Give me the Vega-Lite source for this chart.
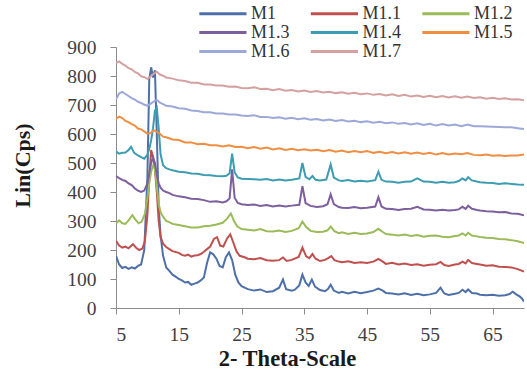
{
"$schema": "https://vega.github.io/schema/vega-lite/v6.json",
"width": 408, "height": 261,
"autosize": {"type": "none"},
"padding": {"left": 116, "top": 47, "right": 3, "bottom": 61},
"background": "white",
"config": {"view": {"stroke": null}, "font": "Liberation Serif"},
"data": {"values": [
{"s":"M1","x":5,"y":180},{"s":"M1","x":5.5,"y":150},{"s":"M1","x":6,"y":138},{"s":"M1","x":6.5,"y":142},{"s":"M1","x":7,"y":135},{"s":"M1","x":7.5,"y":140},{"s":"M1","x":8,"y":136},{"s":"M1","x":8.5,"y":145},{"s":"M1","x":9,"y":150},{"s":"M1","x":9.5,"y":200},{"s":"M1","x":10,"y":450},{"s":"M1","x":10.3,"y":790},{"s":"M1","x":10.6,"y":830},{"s":"M1","x":10.9,"y":795},{"s":"M1","x":11.2,"y":820},{"s":"M1","x":11.5,"y":600},{"s":"M1","x":11.8,"y":350},{"s":"M1","x":12.1,"y":250},{"s":"M1","x":12.5,"y":180},{"s":"M1","x":13,"y":140},{"s":"M1","x":13.5,"y":128},{"s":"M1","x":14,"y":115},{"s":"M1","x":14.5,"y":108},{"s":"M1","x":15,"y":100},{"s":"M1","x":15.5,"y":95},{"s":"M1","x":16,"y":88},{"s":"M1","x":16.5,"y":90},{"s":"M1","x":17,"y":80},{"s":"M1","x":17.5,"y":84},{"s":"M1","x":18,"y":88},{"s":"M1","x":18.5,"y":95},{"s":"M1","x":19,"y":105},{"s":"M1","x":19.5,"y":155},{"s":"M1","x":20,"y":192},{"s":"M1","x":20.5,"y":185},{"s":"M1","x":21,"y":170},{"s":"M1","x":21.5,"y":145},{"s":"M1","x":22,"y":140},{"s":"M1","x":22.5,"y":175},{"s":"M1","x":23,"y":192},{"s":"M1","x":23.5,"y":165},{"s":"M1","x":24,"y":115},{"s":"M1","x":24.5,"y":88},{"s":"M1","x":25,"y":75},{"s":"M1","x":25.5,"y":70},{"s":"M1","x":26,"y":65},{"s":"M1","x":27,"y":60},{"s":"M1","x":28,"y":64},{"s":"M1","x":29,"y":55},{"s":"M1","x":30,"y":58},{"s":"M1","x":31,"y":70},{"s":"M1","x":31.6,"y":98},{"s":"M1","x":32.1,"y":65},{"s":"M1","x":33,"y":60},{"s":"M1","x":33.5,"y":63},{"s":"M1","x":34.2,"y":78},{"s":"M1","x":34.7,"y":115},{"s":"M1","x":35.2,"y":88},{"s":"M1","x":35.7,"y":76},{"s":"M1","x":36.2,"y":98},{"s":"M1","x":36.7,"y":74},{"s":"M1","x":37.5,"y":62},{"s":"M1","x":38.3,"y":58},{"s":"M1","x":38.8,"y":66},{"s":"M1","x":39.2,"y":80},{"s":"M1","x":39.7,"y":60},{"s":"M1","x":40.5,"y":52},{"s":"M1","x":41,"y":56},{"s":"M1","x":42,"y":50},{"s":"M1","x":43,"y":56},{"s":"M1","x":44,"y":51},{"s":"M1","x":45,"y":55},{"s":"M1","x":46,"y":60},{"s":"M1","x":46.8,"y":67},{"s":"M1","x":47.5,"y":60},{"s":"M1","x":48,"y":52},{"s":"M1","x":49,"y":50},{"s":"M1","x":50,"y":47},{"s":"M1","x":51,"y":51},{"s":"M1","x":52,"y":45},{"s":"M1","x":53,"y":49},{"s":"M1","x":54,"y":44},{"s":"M1","x":55,"y":47},{"s":"M1","x":56,"y":52},{"s":"M1","x":56.7,"y":70},{"s":"M1","x":57.3,"y":50},{"s":"M1","x":58,"y":45},{"s":"M1","x":59,"y":49},{"s":"M1","x":59.6,"y":52},{"s":"M1","x":60.2,"y":63},{"s":"M1","x":60.7,"y":55},{"s":"M1","x":61.1,"y":64},{"s":"M1","x":61.7,"y":52},{"s":"M1","x":62.5,"y":50},{"s":"M1","x":63,"y":46},{"s":"M1","x":64,"y":44},{"s":"M1","x":65,"y":46},{"s":"M1","x":66,"y":42},{"s":"M1","x":67,"y":44},{"s":"M1","x":67.7,"y":48},{"s":"M1","x":68.2,"y":56},{"s":"M1","x":68.7,"y":48},{"s":"M1","x":69.3,"y":40},{"s":"M1","x":69.7,"y":32},{"s":"M1","x":70,"y":22},

{"s":"M1.1","x":5,"y":232},{"s":"M1.1","x":5.5,"y":215},{"s":"M1.1","x":6,"y":208},{"s":"M1.1","x":6.5,"y":212},{"s":"M1.1","x":7,"y":206},{"s":"M1.1","x":7.7,"y":220},{"s":"M1.1","x":8.2,"y":208},{"s":"M1.1","x":8.7,"y":200},{"s":"M1.1","x":9.2,"y":205},{"s":"M1.1","x":9.6,"y":230},{"s":"M1.1","x":10,"y":320},{"s":"M1.1","x":10.3,"y":450},{"s":"M1.1","x":10.6,"y":545},{"s":"M1.1","x":10.9,"y":520},{"s":"M1.1","x":11.2,"y":480},{"s":"M1.1","x":11.5,"y":400},{"s":"M1.1","x":11.8,"y":300},{"s":"M1.1","x":12.1,"y":245},{"s":"M1.1","x":12.5,"y":222},{"s":"M1.1","x":13,"y":210},{"s":"M1.1","x":13.5,"y":203},{"s":"M1.1","x":14,"y":196},{"s":"M1.1","x":15,"y":190},{"s":"M1.1","x":15.5,"y":183},{"s":"M1.1","x":16,"y":180},{"s":"M1.1","x":16.5,"y":184},{"s":"M1.1","x":17,"y":177},{"s":"M1.1","x":17.5,"y":181},{"s":"M1.1","x":18,"y":182},{"s":"M1.1","x":18.5,"y":186},{"s":"M1.1","x":19,"y":194},{"s":"M1.1","x":19.5,"y":203},{"s":"M1.1","x":20,"y":212},{"s":"M1.1","x":20.6,"y":238},{"s":"M1.1","x":21.1,"y":244},{"s":"M1.1","x":21.6,"y":215},{"s":"M1.1","x":22.1,"y":212},{"s":"M1.1","x":22.7,"y":240},{"s":"M1.1","x":23.2,"y":254},{"s":"M1.1","x":23.7,"y":225},{"s":"M1.1","x":24.2,"y":195},{"s":"M1.1","x":24.7,"y":180},{"s":"M1.1","x":25.5,"y":175},{"s":"M1.1","x":26,"y":170},{"s":"M1.1","x":27,"y":168},{"s":"M1.1","x":28,"y":172},{"s":"M1.1","x":29,"y":165},{"s":"M1.1","x":30,"y":163},{"s":"M1.1","x":31,"y":165},{"s":"M1.1","x":31.6,"y":174},{"s":"M1.1","x":32.2,"y":162},{"s":"M1.1","x":33,"y":166},{"s":"M1.1","x":34.1,"y":176},{"s":"M1.1","x":34.7,"y":208},{"s":"M1.1","x":35.3,"y":178},{"s":"M1.1","x":35.8,"y":172},{"s":"M1.1","x":36.3,"y":186},{"s":"M1.1","x":36.8,"y":170},{"s":"M1.1","x":37.5,"y":162},{"s":"M1.1","x":38.3,"y":166},{"s":"M1.1","x":38.8,"y":172},{"s":"M1.1","x":39.3,"y":179},{"s":"M1.1","x":39.8,"y":165},{"s":"M1.1","x":40.5,"y":160},{"s":"M1.1","x":41,"y":158},{"s":"M1.1","x":42,"y":161},{"s":"M1.1","x":43,"y":155},{"s":"M1.1","x":44,"y":158},{"s":"M1.1","x":45,"y":155},{"s":"M1.1","x":46,"y":160},{"s":"M1.1","x":46.8,"y":169},{"s":"M1.1","x":47.5,"y":160},{"s":"M1.1","x":48,"y":152},{"s":"M1.1","x":49,"y":156},{"s":"M1.1","x":50,"y":150},{"s":"M1.1","x":51,"y":153},{"s":"M1.1","x":52,"y":148},{"s":"M1.1","x":53,"y":151},{"s":"M1.1","x":54,"y":146},{"s":"M1.1","x":55,"y":149},{"s":"M1.1","x":56,"y":151},{"s":"M1.1","x":56.7,"y":159},{"s":"M1.1","x":57.3,"y":148},{"s":"M1.1","x":58,"y":145},{"s":"M1.1","x":59,"y":150},{"s":"M1.1","x":59.6,"y":152},{"s":"M1.1","x":60.2,"y":160},{"s":"M1.1","x":60.7,"y":154},{"s":"M1.1","x":61.1,"y":166},{"s":"M1.1","x":61.7,"y":155},{"s":"M1.1","x":62.5,"y":152},{"s":"M1.1","x":63,"y":150},{"s":"M1.1","x":64,"y":146},{"s":"M1.1","x":65,"y":147},{"s":"M1.1","x":66,"y":142},{"s":"M1.1","x":67,"y":141},{"s":"M1.1","x":68,"y":140},{"s":"M1.1","x":69,"y":134},{"s":"M1.1","x":70,"y":126},

{"s":"M1.2","x":5,"y":292},{"s":"M1.2","x":5.5,"y":302},{"s":"M1.2","x":6,"y":292},{"s":"M1.2","x":6.5,"y":290},{"s":"M1.2","x":7,"y":302},{"s":"M1.2","x":7.6,"y":320},{"s":"M1.2","x":8.1,"y":305},{"s":"M1.2","x":8.6,"y":292},{"s":"M1.2","x":9.1,"y":298},{"s":"M1.2","x":9.6,"y":325},{"s":"M1.2","x":10,"y":380},{"s":"M1.2","x":10.3,"y":430},{"s":"M1.2","x":10.6,"y":470},{"s":"M1.2","x":10.9,"y":490},{"s":"M1.2","x":11.2,"y":480},{"s":"M1.2","x":11.5,"y":420},{"s":"M1.2","x":11.8,"y":360},{"s":"M1.2","x":12.1,"y":330},{"s":"M1.2","x":12.5,"y":315},{"s":"M1.2","x":13,"y":300},{"s":"M1.2","x":13.5,"y":296},{"s":"M1.2","x":14,"y":290},{"s":"M1.2","x":15,"y":286},{"s":"M1.2","x":16,"y":282},{"s":"M1.2","x":17,"y":278},{"s":"M1.2","x":18,"y":278},{"s":"M1.2","x":19,"y":282},{"s":"M1.2","x":20,"y":284},{"s":"M1.2","x":21,"y":288},{"s":"M1.2","x":22,"y":294},{"s":"M1.2","x":22.7,"y":308},{"s":"M1.2","x":23.3,"y":326},{"s":"M1.2","x":23.8,"y":300},{"s":"M1.2","x":24.3,"y":282},{"s":"M1.2","x":25,"y":272},{"s":"M1.2","x":26,"y":270},{"s":"M1.2","x":27,"y":267},{"s":"M1.2","x":28,"y":272},{"s":"M1.2","x":29,"y":265},{"s":"M1.2","x":30,"y":264},{"s":"M1.2","x":31,"y":267},{"s":"M1.2","x":32,"y":262},{"s":"M1.2","x":33,"y":266},{"s":"M1.2","x":34.1,"y":275},{"s":"M1.2","x":34.7,"y":298},{"s":"M1.2","x":35.3,"y":279},{"s":"M1.2","x":36,"y":266},{"s":"M1.2","x":37,"y":262},{"s":"M1.2","x":38,"y":263},{"s":"M1.2","x":38.7,"y":268},{"s":"M1.2","x":39.2,"y":281},{"s":"M1.2","x":39.8,"y":265},{"s":"M1.2","x":40.5,"y":258},{"s":"M1.2","x":41,"y":261},{"s":"M1.2","x":42,"y":255},{"s":"M1.2","x":43,"y":259},{"s":"M1.2","x":44,"y":255},{"s":"M1.2","x":45,"y":257},{"s":"M1.2","x":46,"y":262},{"s":"M1.2","x":46.8,"y":273},{"s":"M1.2","x":47.5,"y":262},{"s":"M1.2","x":48,"y":255},{"s":"M1.2","x":49,"y":253},{"s":"M1.2","x":50,"y":250},{"s":"M1.2","x":51,"y":253},{"s":"M1.2","x":52,"y":248},{"s":"M1.2","x":53,"y":252},{"s":"M1.2","x":54,"y":246},{"s":"M1.2","x":55,"y":249},{"s":"M1.2","x":56,"y":250},{"s":"M1.2","x":57,"y":246},{"s":"M1.2","x":58,"y":244},{"s":"M1.2","x":59,"y":248},{"s":"M1.2","x":59.6,"y":250},{"s":"M1.2","x":60.2,"y":257},{"s":"M1.2","x":60.7,"y":250},{"s":"M1.2","x":61.1,"y":259},{"s":"M1.2","x":61.7,"y":250},{"s":"M1.2","x":62.5,"y":247},{"s":"M1.2","x":63,"y":245},{"s":"M1.2","x":64,"y":242},{"s":"M1.2","x":65,"y":241},{"s":"M1.2","x":66,"y":238},{"s":"M1.2","x":67,"y":237},{"s":"M1.2","x":68,"y":234},{"s":"M1.2","x":69,"y":230},{"s":"M1.2","x":70,"y":224},

{"s":"M1.3","x":5,"y":455},{"s":"M1.3","x":5.5,"y":448},{"s":"M1.3","x":6,"y":442},{"s":"M1.3","x":6.5,"y":438},{"s":"M1.3","x":7,"y":430},{"s":"M1.3","x":7.5,"y":424},{"s":"M1.3","x":8,"y":412},{"s":"M1.3","x":8.5,"y":405},{"s":"M1.3","x":9,"y":400},{"s":"M1.3","x":9.5,"y":405},{"s":"M1.3","x":10,"y":430},{"s":"M1.3","x":10.3,"y":465},{"s":"M1.3","x":10.6,"y":500},{"s":"M1.3","x":10.9,"y":520},{"s":"M1.3","x":11.2,"y":500},{"s":"M1.3","x":11.5,"y":460},{"s":"M1.3","x":11.8,"y":430},{"s":"M1.3","x":12.1,"y":415},{"s":"M1.3","x":12.5,"y":405},{"s":"M1.3","x":13,"y":400},{"s":"M1.3","x":13.5,"y":396},{"s":"M1.3","x":14,"y":390},{"s":"M1.3","x":15,"y":385},{"s":"M1.3","x":16,"y":382},{"s":"M1.3","x":17,"y":377},{"s":"M1.3","x":18,"y":376},{"s":"M1.3","x":19,"y":372},{"s":"M1.3","x":20,"y":366},{"s":"M1.3","x":21,"y":368},{"s":"M1.3","x":22,"y":364},{"s":"M1.3","x":22.6,"y":368},{"s":"M1.3","x":23.1,"y":378},{"s":"M1.3","x":23.5,"y":478},{"s":"M1.3","x":23.9,"y":380},{"s":"M1.3","x":24.4,"y":362},{"s":"M1.3","x":25,"y":358},{"s":"M1.3","x":26,"y":355},{"s":"M1.3","x":27,"y":357},{"s":"M1.3","x":28,"y":352},{"s":"M1.3","x":29,"y":355},{"s":"M1.3","x":30,"y":350},{"s":"M1.3","x":31,"y":353},{"s":"M1.3","x":32,"y":350},{"s":"M1.3","x":33,"y":353},{"s":"M1.3","x":34.2,"y":356},{"s":"M1.3","x":34.7,"y":420},{"s":"M1.3","x":35.2,"y":362},{"s":"M1.3","x":36,"y":352},{"s":"M1.3","x":37,"y":348},{"s":"M1.3","x":38,"y":351},{"s":"M1.3","x":38.7,"y":358},{"s":"M1.3","x":39.2,"y":392},{"s":"M1.3","x":39.7,"y":358},{"s":"M1.3","x":40.5,"y":348},{"s":"M1.3","x":41,"y":346},{"s":"M1.3","x":42,"y":345},{"s":"M1.3","x":43,"y":348},{"s":"M1.3","x":44,"y":344},{"s":"M1.3","x":45,"y":346},{"s":"M1.3","x":46.3,"y":350},{"s":"M1.3","x":46.8,"y":382},{"s":"M1.3","x":47.3,"y":350},{"s":"M1.3","x":48,"y":342},{"s":"M1.3","x":49,"y":341},{"s":"M1.3","x":50,"y":338},{"s":"M1.3","x":51,"y":341},{"s":"M1.3","x":52,"y":342},{"s":"M1.3","x":53,"y":349},{"s":"M1.3","x":54,"y":340},{"s":"M1.3","x":55,"y":339},{"s":"M1.3","x":56,"y":336},{"s":"M1.3","x":57,"y":339},{"s":"M1.3","x":58,"y":336},{"s":"M1.3","x":59,"y":338},{"s":"M1.3","x":59.6,"y":340},{"s":"M1.3","x":60.2,"y":349},{"s":"M1.3","x":60.7,"y":342},{"s":"M1.3","x":61.1,"y":353},{"s":"M1.3","x":61.7,"y":342},{"s":"M1.3","x":62.5,"y":338},{"s":"M1.3","x":63,"y":336},{"s":"M1.3","x":64,"y":334},{"s":"M1.3","x":65,"y":333},{"s":"M1.3","x":66,"y":330},{"s":"M1.3","x":67,"y":331},{"s":"M1.3","x":68,"y":326},{"s":"M1.3","x":69,"y":325},{"s":"M1.3","x":70,"y":320},

{"s":"M1.4","x":5,"y":540},{"s":"M1.4","x":5.5,"y":532},{"s":"M1.4","x":6,"y":535},{"s":"M1.4","x":6.5,"y":536},{"s":"M1.4","x":7,"y":545},{"s":"M1.4","x":7.4,"y":556},{"s":"M1.4","x":7.9,"y":535},{"s":"M1.4","x":8.5,"y":526},{"s":"M1.4","x":9,"y":520},{"s":"M1.4","x":9.5,"y":515},{"s":"M1.4","x":10,"y":528},{"s":"M1.4","x":10.3,"y":548},{"s":"M1.4","x":10.6,"y":578},{"s":"M1.4","x":10.9,"y":620},{"s":"M1.4","x":11.2,"y":680},{"s":"M1.4","x":11.5,"y":690},{"s":"M1.4","x":11.8,"y":620},{"s":"M1.4","x":12.1,"y":530},{"s":"M1.4","x":12.5,"y":492},{"s":"M1.4","x":13,"y":482},{"s":"M1.4","x":13.5,"y":478},{"s":"M1.4","x":14,"y":475},{"s":"M1.4","x":15,"y":470},{"s":"M1.4","x":16,"y":468},{"s":"M1.4","x":17,"y":464},{"s":"M1.4","x":18,"y":463},{"s":"M1.4","x":19,"y":459},{"s":"M1.4","x":20,"y":458},{"s":"M1.4","x":21,"y":455},{"s":"M1.4","x":22,"y":454},{"s":"M1.4","x":22.6,"y":456},{"s":"M1.4","x":23.1,"y":465},{"s":"M1.4","x":23.5,"y":532},{"s":"M1.4","x":23.9,"y":468},{"s":"M1.4","x":24.4,"y":450},{"s":"M1.4","x":25,"y":446},{"s":"M1.4","x":26,"y":445},{"s":"M1.4","x":27,"y":444},{"s":"M1.4","x":28,"y":442},{"s":"M1.4","x":29,"y":445},{"s":"M1.4","x":30,"y":440},{"s":"M1.4","x":31,"y":443},{"s":"M1.4","x":32,"y":440},{"s":"M1.4","x":33,"y":442},{"s":"M1.4","x":34.2,"y":447},{"s":"M1.4","x":34.7,"y":500},{"s":"M1.4","x":35.2,"y":452},{"s":"M1.4","x":35.8,"y":444},{"s":"M1.4","x":36.3,"y":455},{"s":"M1.4","x":36.8,"y":442},{"s":"M1.4","x":37.5,"y":440},{"s":"M1.4","x":38.5,"y":443},{"s":"M1.4","x":39.2,"y":495},{"s":"M1.4","x":39.7,"y":450},{"s":"M1.4","x":40.5,"y":440},{"s":"M1.4","x":41,"y":438},{"s":"M1.4","x":42,"y":441},{"s":"M1.4","x":43,"y":436},{"s":"M1.4","x":44,"y":439},{"s":"M1.4","x":45,"y":436},{"s":"M1.4","x":46.3,"y":441},{"s":"M1.4","x":46.8,"y":470},{"s":"M1.4","x":47.3,"y":442},{"s":"M1.4","x":48,"y":436},{"s":"M1.4","x":49,"y":435},{"s":"M1.4","x":50,"y":432},{"s":"M1.4","x":51,"y":435},{"s":"M1.4","x":52,"y":436},{"s":"M1.4","x":53,"y":447},{"s":"M1.4","x":54,"y":436},{"s":"M1.4","x":55,"y":435},{"s":"M1.4","x":56,"y":432},{"s":"M1.4","x":57,"y":435},{"s":"M1.4","x":58,"y":432},{"s":"M1.4","x":59,"y":434},{"s":"M1.4","x":59.6,"y":438},{"s":"M1.4","x":60.2,"y":447},{"s":"M1.4","x":60.7,"y":440},{"s":"M1.4","x":61.1,"y":451},{"s":"M1.4","x":61.7,"y":440},{"s":"M1.4","x":62.5,"y":436},{"s":"M1.4","x":63,"y":434},{"s":"M1.4","x":64,"y":432},{"s":"M1.4","x":65,"y":431},{"s":"M1.4","x":66,"y":428},{"s":"M1.4","x":67,"y":430},{"s":"M1.4","x":68,"y":428},{"s":"M1.4","x":69,"y":426},{"s":"M1.4","x":70,"y":425},

{"s":"M1.5","x":5,"y":652},{"s":"M1.5","x":5.5,"y":660},{"s":"M1.5","x":6,"y":655},{"s":"M1.5","x":6.5,"y":645},{"s":"M1.5","x":7,"y":641},{"s":"M1.5","x":7.5,"y":634},{"s":"M1.5","x":8,"y":629},{"s":"M1.5","x":8.5,"y":619},{"s":"M1.5","x":9,"y":616},{"s":"M1.5","x":9.5,"y":609},{"s":"M1.5","x":10,"y":601},{"s":"M1.5","x":10.5,"y":603},{"s":"M1.5","x":11,"y":613},{"s":"M1.5","x":11.5,"y":607},{"s":"M1.5","x":12,"y":601},{"s":"M1.5","x":12.5,"y":591},{"s":"M1.5","x":13,"y":589},{"s":"M1.5","x":14,"y":581},{"s":"M1.5","x":15,"y":579},{"s":"M1.5","x":16,"y":571},{"s":"M1.5","x":17,"y":571},{"s":"M1.5","x":18,"y":565},{"s":"M1.5","x":19,"y":566},{"s":"M1.5","x":20,"y":561},{"s":"M1.5","x":21,"y":561},{"s":"M1.5","x":22,"y":557},{"s":"M1.5","x":23,"y":561},{"s":"M1.5","x":24,"y":555},{"s":"M1.5","x":25,"y":556},{"s":"M1.5","x":26,"y":551},{"s":"M1.5","x":27,"y":555},{"s":"M1.5","x":28,"y":549},{"s":"M1.5","x":29,"y":553},{"s":"M1.5","x":30,"y":547},{"s":"M1.5","x":31,"y":551},{"s":"M1.5","x":32,"y":545},{"s":"M1.5","x":33,"y":549},{"s":"M1.5","x":34,"y":544},{"s":"M1.5","x":35,"y":547},{"s":"M1.5","x":36,"y":543},{"s":"M1.5","x":37,"y":546},{"s":"M1.5","x":38,"y":541},{"s":"M1.5","x":39,"y":545},{"s":"M1.5","x":40,"y":539},{"s":"M1.5","x":41,"y":543},{"s":"M1.5","x":42,"y":537},{"s":"M1.5","x":43,"y":541},{"s":"M1.5","x":44,"y":537},{"s":"M1.5","x":45,"y":541},{"s":"M1.5","x":46,"y":535},{"s":"M1.5","x":47,"y":539},{"s":"M1.5","x":48,"y":534},{"s":"M1.5","x":49,"y":538},{"s":"M1.5","x":50,"y":533},{"s":"M1.5","x":51,"y":537},{"s":"M1.5","x":52,"y":532},{"s":"M1.5","x":53,"y":536},{"s":"M1.5","x":54,"y":531},{"s":"M1.5","x":55,"y":535},{"s":"M1.5","x":56,"y":529},{"s":"M1.5","x":57,"y":534},{"s":"M1.5","x":58,"y":529},{"s":"M1.5","x":59,"y":533},{"s":"M1.5","x":60,"y":530},{"s":"M1.5","x":61,"y":534},{"s":"M1.5","x":62,"y":528},{"s":"M1.5","x":63,"y":527},{"s":"M1.5","x":64,"y":529},{"s":"M1.5","x":65,"y":525},{"s":"M1.5","x":66,"y":527},{"s":"M1.5","x":67,"y":524},{"s":"M1.5","x":68,"y":526},{"s":"M1.5","x":69,"y":526},{"s":"M1.5","x":70,"y":529},

{"s":"M1.6","x":5,"y":720},{"s":"M1.6","x":5.5,"y":740},{"s":"M1.6","x":6,"y":745},{"s":"M1.6","x":6.5,"y":738},{"s":"M1.6","x":7,"y":731},{"s":"M1.6","x":7.5,"y":724},{"s":"M1.6","x":8,"y":719},{"s":"M1.6","x":8.5,"y":711},{"s":"M1.6","x":9,"y":707},{"s":"M1.6","x":9.5,"y":701},{"s":"M1.6","x":10,"y":698},{"s":"M1.6","x":10.5,"y":704},{"s":"M1.6","x":11,"y":712},{"s":"M1.6","x":11.5,"y":718},{"s":"M1.6","x":12,"y":708},{"s":"M1.6","x":12.5,"y":703},{"s":"M1.6","x":13,"y":697},{"s":"M1.6","x":14,"y":695},{"s":"M1.6","x":15,"y":689},{"s":"M1.6","x":16,"y":687},{"s":"M1.6","x":17,"y":681},{"s":"M1.6","x":18,"y":679},{"s":"M1.6","x":19,"y":675},{"s":"M1.6","x":20,"y":675},{"s":"M1.6","x":21,"y":671},{"s":"M1.6","x":22,"y":671},{"s":"M1.6","x":23,"y":667},{"s":"M1.6","x":24,"y":667},{"s":"M1.6","x":25,"y":664},{"s":"M1.6","x":26,"y":662},{"s":"M1.6","x":27,"y":665},{"s":"M1.6","x":28,"y":659},{"s":"M1.6","x":29,"y":659},{"s":"M1.6","x":30,"y":655},{"s":"M1.6","x":31,"y":658},{"s":"M1.6","x":32,"y":653},{"s":"M1.6","x":33,"y":656},{"s":"M1.6","x":34,"y":651},{"s":"M1.6","x":35,"y":654},{"s":"M1.6","x":36,"y":649},{"s":"M1.6","x":37,"y":652},{"s":"M1.6","x":38,"y":647},{"s":"M1.6","x":39,"y":650},{"s":"M1.6","x":40,"y":645},{"s":"M1.6","x":41,"y":648},{"s":"M1.6","x":42,"y":643},{"s":"M1.6","x":43,"y":646},{"s":"M1.6","x":44,"y":641},{"s":"M1.6","x":45,"y":644},{"s":"M1.6","x":46,"y":639},{"s":"M1.6","x":47,"y":642},{"s":"M1.6","x":48,"y":637},{"s":"M1.6","x":49,"y":640},{"s":"M1.6","x":50,"y":635},{"s":"M1.6","x":51,"y":638},{"s":"M1.6","x":52,"y":633},{"s":"M1.6","x":53,"y":637},{"s":"M1.6","x":54,"y":631},{"s":"M1.6","x":55,"y":635},{"s":"M1.6","x":56,"y":629},{"s":"M1.6","x":57,"y":634},{"s":"M1.6","x":58,"y":629},{"s":"M1.6","x":59,"y":633},{"s":"M1.6","x":60,"y":627},{"s":"M1.6","x":61,"y":633},{"s":"M1.6","x":62,"y":627},{"s":"M1.6","x":63,"y":627},{"s":"M1.6","x":64,"y":626},{"s":"M1.6","x":65,"y":625},{"s":"M1.6","x":66,"y":624},{"s":"M1.6","x":67,"y":623},{"s":"M1.6","x":68,"y":623},{"s":"M1.6","x":69,"y":620},{"s":"M1.6","x":70,"y":617},

{"s":"M1.7","x":5,"y":845},{"s":"M1.7","x":5.5,"y":850},{"s":"M1.7","x":6,"y":842},{"s":"M1.7","x":6.5,"y":836},{"s":"M1.7","x":7,"y":827},{"s":"M1.7","x":7.5,"y":823},{"s":"M1.7","x":8,"y":814},{"s":"M1.7","x":8.5,"y":809},{"s":"M1.7","x":9,"y":799},{"s":"M1.7","x":9.5,"y":796},{"s":"M1.7","x":10,"y":790},{"s":"M1.7","x":10.5,"y":798},{"s":"M1.7","x":11,"y":808},{"s":"M1.7","x":11.5,"y":815},{"s":"M1.7","x":12,"y":805},{"s":"M1.7","x":12.5,"y":801},{"s":"M1.7","x":13,"y":795},{"s":"M1.7","x":14,"y":791},{"s":"M1.7","x":15,"y":785},{"s":"M1.7","x":16,"y":783},{"s":"M1.7","x":17,"y":777},{"s":"M1.7","x":18,"y":777},{"s":"M1.7","x":19,"y":771},{"s":"M1.7","x":20,"y":771},{"s":"M1.7","x":21,"y":767},{"s":"M1.7","x":22,"y":767},{"s":"M1.7","x":23,"y":763},{"s":"M1.7","x":24,"y":764},{"s":"M1.7","x":25,"y":759},{"s":"M1.7","x":26,"y":758},{"s":"M1.7","x":27,"y":761},{"s":"M1.7","x":28,"y":755},{"s":"M1.7","x":29,"y":756},{"s":"M1.7","x":30,"y":751},{"s":"M1.7","x":31,"y":755},{"s":"M1.7","x":32,"y":749},{"s":"M1.7","x":33,"y":752},{"s":"M1.7","x":34,"y":747},{"s":"M1.7","x":35,"y":750},{"s":"M1.7","x":36,"y":745},{"s":"M1.7","x":37,"y":748},{"s":"M1.7","x":38,"y":743},{"s":"M1.7","x":39,"y":746},{"s":"M1.7","x":40,"y":741},{"s":"M1.7","x":41,"y":744},{"s":"M1.7","x":42,"y":739},{"s":"M1.7","x":43,"y":742},{"s":"M1.7","x":44,"y":737},{"s":"M1.7","x":45,"y":740},{"s":"M1.7","x":46,"y":735},{"s":"M1.7","x":47,"y":738},{"s":"M1.7","x":48,"y":733},{"s":"M1.7","x":49,"y":737},{"s":"M1.7","x":50,"y":731},{"s":"M1.7","x":51,"y":735},{"s":"M1.7","x":52,"y":729},{"s":"M1.7","x":53,"y":733},{"s":"M1.7","x":54,"y":728},{"s":"M1.7","x":55,"y":732},{"s":"M1.7","x":56,"y":727},{"s":"M1.7","x":57,"y":731},{"s":"M1.7","x":58,"y":726},{"s":"M1.7","x":59,"y":730},{"s":"M1.7","x":60,"y":725},{"s":"M1.7","x":61,"y":729},{"s":"M1.7","x":62,"y":724},{"s":"M1.7","x":63,"y":727},{"s":"M1.7","x":64,"y":722},{"s":"M1.7","x":65,"y":725},{"s":"M1.7","x":66,"y":721},{"s":"M1.7","x":67,"y":723},{"s":"M1.7","x":68,"y":719},{"s":"M1.7","x":69,"y":720},{"s":"M1.7","x":70,"y":716}
]},
"mark": {"type": "line", "strokeWidth": 2, "clip": true},
"encoding": {
  "x": {"field": "x", "type": "quantitative",
        "scale": {"domain": [5, 70], "nice": false, "zero": false},
        "axis": {"values": [5, 15, 25, 35, 45, 55, 65], "title": "2- Theta-Scale", "grid": false,
                 "domainColor": "#8c8c8c", "tickColor": "#8c8c8c", "tickSize": 6,
                 "labelFont": "Liberation Serif", "labelFontSize": 19.5, "labelColor": "#404040", "labelPadding": 11,
                 "titleFont": "Liberation Serif", "titleFontSize": 22.5, "titleFontWeight": "bold", "titleColor": "#1a1a1a",
                 "titleX": 171, "titleY": 57, "titleAlign": "center", "titleBaseline": "alphabetic"}},
  "y": {"field": "y", "type": "quantitative",
        "scale": {"domain": [0, 900], "nice": false},
        "axis": {"values": [0, 100, 200, 300, 400, 500, 600, 700, 800, 900], "title": "Lin(Cps)", "grid": false,
                 "domainColor": "#8c8c8c", "tickColor": "#8c8c8c", "tickSize": 6,
                 "labelFont": "Liberation Serif", "labelFontSize": 19.5, "labelColor": "#404040", "labelPadding": 14,
                 "titleFont": "Liberation Serif", "titleFontSize": 22, "titleFontWeight": "bold", "titleColor": "#1a1a1a",
                 "titleAngle": -90, "titleX": -94, "titleY": 118, "titleAlign": "center", "titleBaseline": "middle"}},
  "color": {"field": "s", "type": "nominal",
            "scale": {"domain": ["M1", "M1.1", "M1.2", "M1.3", "M1.4", "M1.5", "M1.6", "M1.7"],
                      "range": ["#4E70A8", "#C0504D", "#9BBB59", "#7D5F9E", "#3C9CB2", "#F08E42", "#9CA9D8", "#D5A0A0"]},
            "legend": {"title": null, "orient": "none", "legendX": 113, "legendY": -43, "direction": "horizontal", "columns": 3,
                       "symbolType": "M-4.9,0H1", "symbolSize": 256, "symbolStrokeWidth": 3, "labelOffset": 3,
                       "labelFont": "Liberation Serif", "labelFontSize": 18, "labelColor": "#333333",
                       "columnPadding": 14.5, "rowPadding": -1.5, "padding": 0}}
}
}
